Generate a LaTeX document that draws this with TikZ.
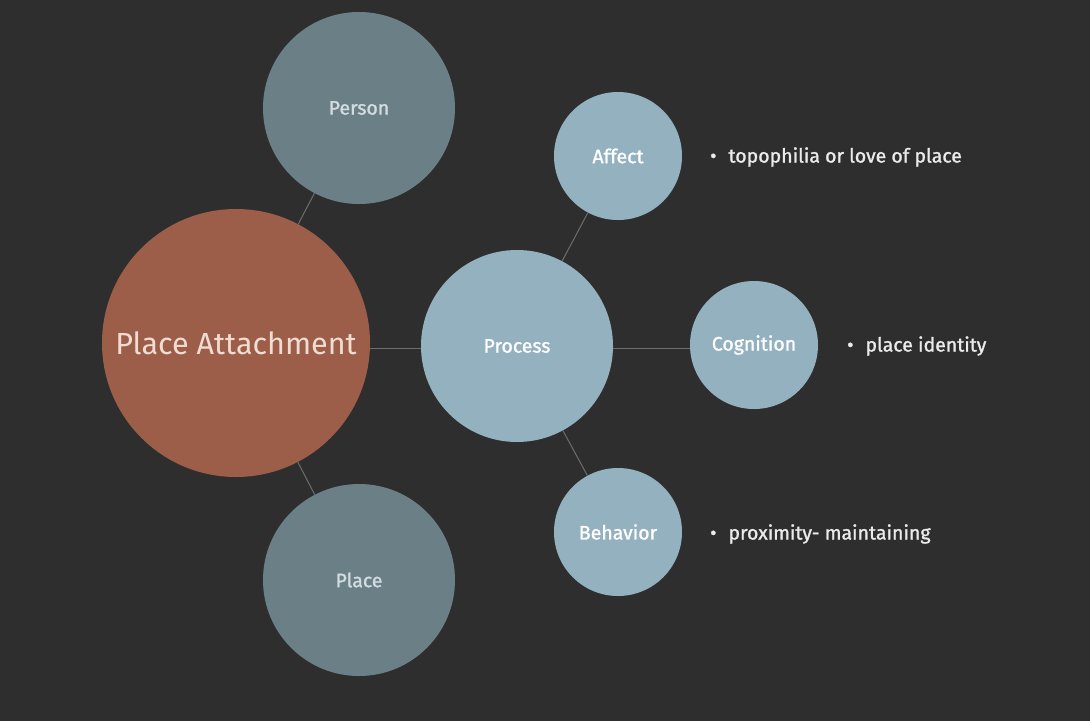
\documentclass[tikz,border=0pt]{standalone}
\usepackage{fontspec}
\setmainfont{Fira Sans}
\newfontfamily\medfont{Fira Sans}[FakeBold=1.3]
\definecolor{bg}{HTML}{2E2E2E}
\definecolor{rust}{HTML}{9C5E48}
\definecolor{slate}{HTML}{6B7F87}
\definecolor{sky}{HTML}{94B1BF}
\definecolor{pinktxt}{HTML}{F0DCD2}
\definecolor{slatetxt}{HTML}{D3DCE0}
\definecolor{linec}{HTML}{6A6E70}
\tikzset{
  bubble/.style={circle, inner sep=0pt, draw=none},
  big/.style={bubble, fill=rust, minimum size=268pt, text=pinktxt, font=\fontsize{30.5}{33}\selectfont},
  mid/.style={bubble, fill=slate, minimum size=192pt, text=slatetxt, font=\medfont\fontsize{19.5}{22}\selectfont},
  proc/.style={bubble, fill=sky, minimum size=192pt, text=white, font=\medfont\fontsize{19.5}{22}\selectfont},
  small/.style={bubble, fill=sky, minimum size=128pt, text=white, font=\medfont\fontsize{19.5}{22}\selectfont},
  note/.style={anchor=west, text=white!92!black, font=\medfont\fontsize{19.5}{22}\selectfont, inner sep=0pt},
  conn/.style={draw=linec, line width=1pt}
}
\begin{document}
\begin{tikzpicture}[x=1pt,y=-1pt]
\fill[bg] (0,0) rectangle (1090,721);
\useasboundingbox (0,0) rectangle (1090,721);
\node[big] (pa) at (236,343) {Place Attachment};
\node[mid] (person) at (359,108) {Person};
\node[mid] (place) at (359,580) {Place};
\node[proc] (process) at (517,346) {Process};
\node[small] (affect) at (618,156) {Affect};
\node[small] (cog) at (754,345) {Cognition};
\node[small] (beh) at (618,532) {Behavior};
\coordinate (pj) at ([yshift=-2pt]process.west);
\coordinate (pk) at ([yshift=-2pt]process.east);
\draw[conn] (pa) -- (person);
\draw[conn] (pa) -- (place);
\draw[conn] (pj) -- (pj -| pa.east);
\draw[conn] (process) -- (affect);
\draw[conn] (pk) -- (pk -| cog.west);
\draw[conn] (process) -- (beh);
\node[note] (n1) at (710,157) {\textbullet\hspace{12pt}topophilia or love of place};
\node[note] (n2) at (847,346) {\textbullet\hspace{12pt}place identity};
\node[note] (n3) at (710,534) {\textbullet\hspace{12pt}proximity- maintaining};
\end{tikzpicture}
\end{document}
